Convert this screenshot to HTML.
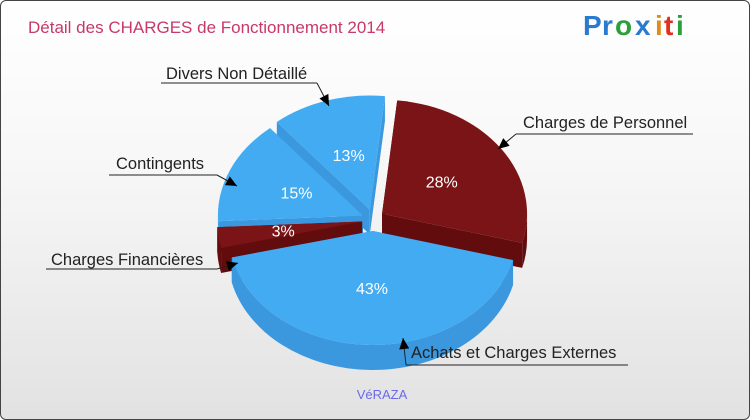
<!DOCTYPE html>
<html><head><meta charset="utf-8"><style>
body{margin:0;width:750px;height:420px;overflow:hidden;font-family:"Liberation Sans",sans-serif}
#wrap{position:absolute;left:0;top:0;width:748px;height:418px;border:1px solid #444;border-radius:6px;background:linear-gradient(#ffffff 0%,#f7f7f7 40%,#e2e2e2 100%);overflow:hidden}
</style></head><body>
<div id="wrap">
<svg id="svg" width="750" height="420" style="position:absolute;left:0;top:0">
<text x="27" y="32" font-size="17" fill="#c8386a">Détail des CHARGES de Fonctionnement 2014</text>
<g font-size="28" font-weight="bold" font-family="Liberation Sans, sans-serif">
<text x="582" y="34" fill="#2a7bd0">P</text><text x="601" y="34" fill="#2a7bd0">r</text><text x="614" y="34" fill="#2aa03a">o</text><text x="634" y="34" fill="#2a7bd0">x</text><text x="654" y="34" fill="#e08a20">i</text><text x="663" y="34" fill="#e03020">t</text><text x="675" y="34" fill="#2aa03a">i</text>
</g>
<text x="381" y="398" font-size="13" fill="#6a6ae8" text-anchor="middle">VéRAZA</text>
<g id="pie"></g>
<g id="labels" font-size="16.5" fill="#222"></g>
</svg>
</div>
<script>
const categories=["Charges de Personnel","Achats et Charges Externes","Charges Financières","Contingents","Divers Non Détaillé"];
const values=[28,43,3,15,13];
const kinds=["red","blue","red","blue","blue"];
const labelText=[{x:522,y:127,lx1:515,lx2:692,ly:133,ax:497,ay:148},{x:410,y:357,lx1:405,lx2:627,ly:364,ax:402,ay:337},{x:50,y:264,lx1:45,lx2:216,ly:268,ax:237,ay:262},{x:115,y:168,lx1:108,lx2:216,ly:174,ax:236,ay:185},{x:165,y:78,lx1:160,lx2:316,ly:82,ax:328,ay:105}];
const NS="http://www.w3.org/2000/svg";
const cx=372,cy=219,rx=145,ry=114,depth=25,expl=11,startDeg=-84;
const colors={red:{top:"#7a1416",side:"#620c0e"},blue:{top:"#42abf2",side:"#3b98df"}};
const pie=document.getElementById('pie'),lab=document.getElementById('labels');
const total=values.reduce((a,b)=>a+b,0);
function rad(d){return d*Math.PI/180}
function pt(c,a,dy){return [c[0]+rx*Math.cos(rad(a)),c[1]+ry*Math.sin(rad(a))+(dy||0)]}
function mk(tag,attrs){const e=document.createElementNS(NS,tag);for(const k in attrs)e.setAttribute(k,attrs[k]);return e}
let a=startDeg;const slices=[];
values.forEach((v,i)=>{const a1=a,a2=a+v/total*360;a=a2;const m=(a1+a2)/2;
const c=[cx+expl*Math.cos(rad(m)),cy+expl*Math.sin(rad(m))];slices.push({a1,a2,m,c,i});});
const order=slices.slice().sort((p,q)=>Math.sin(rad(p.m))-Math.sin(rad(q.m)));
const txtG=mk('g',{});
order.forEach(s=>{const col=colors[kinds[s.i]];
 const g=mk('g',{});pie.appendChild(g);
 [s.a1,s.a2].forEach(ang=>{const p=pt(s.c,ang);
  const f=mk('path',{d:`M${s.c[0]},${s.c[1]} L${p[0]},${p[1]} L${p[0]},${p[1]+depth} L${s.c[0]},${s.c[1]+depth}Z`,fill:col.side});
  
  
  g.appendChild(f);});
 for(let k=-1;k<=1;k++){const lo=Math.max(s.a1,k*360),hi=Math.min(s.a2,k*360+180);
  if(hi>lo){const p1=pt(s.c,lo),p2=pt(s.c,hi);
   const f=mk('path',{d:`M${p1[0]},${p1[1]} A${rx},${ry} 0 0 1 ${p2[0]},${p2[1]} L${p2[0]},${p2[1]+depth} A${rx},${ry} 0 0 0 ${p1[0]},${p1[1]+depth}Z`,fill:col.side});
   
   
   g.appendChild(f);}}
 const p1=pt(s.c,s.a1),p2=pt(s.c,s.a2);const large=(s.a2-s.a1)>180?1:0;
 const t=mk('path',{d:`M${s.c[0]},${s.c[1]} L${p1[0]},${p1[1]} A${rx},${ry} 0 ${large} 1 ${p2[0]},${p2[1]}Z`,fill:col.top});
 
 
 g.appendChild(t);
 const r=values[s.i]<5?0.55:0.5;
 const lp=[s.c[0]+r*rx*Math.cos(rad(s.m)),s.c[1]+r*ry*Math.sin(rad(s.m))+6];
 const tx=mk('text',{x:lp[0],y:lp[1],fill:'#fff','font-size':16,'text-anchor':'middle'});
 tx.textContent=values[s.i]+'%';
 
 
 txtG.appendChild(tx);
});
pie.appendChild(txtG);
labelText.forEach((L,i)=>{
 const t=mk('text',{x:L.x,y:L.y});t.textContent=categories[i];
 
 
 lab.appendChild(t);
 const sx=L.x>370?L.lx1:L.lx2;
 const l=mk('path',{d:`M${L.lx1},${L.ly} L${L.lx2},${L.ly} M${sx},${L.ly} L${L.ax},${L.ay}`,stroke:'#222','stroke-width':1,fill:'none'});
 
 
 lab.appendChild(l);
 const ang=Math.atan2(L.ay-L.ly,L.ax-sx);const s=11,w=5;
 const bx=L.ax-s*Math.cos(ang),by=L.ay-s*Math.sin(ang);
 const h=mk('path',{d:`M${L.ax},${L.ay} L${bx-w*Math.sin(ang)},${by+w*Math.cos(ang)} L${bx+w*Math.sin(ang)},${by-w*Math.cos(ang)}Z`,fill:'#000'});
 
 
 lab.appendChild(h);
});
</script>
</body></html>
